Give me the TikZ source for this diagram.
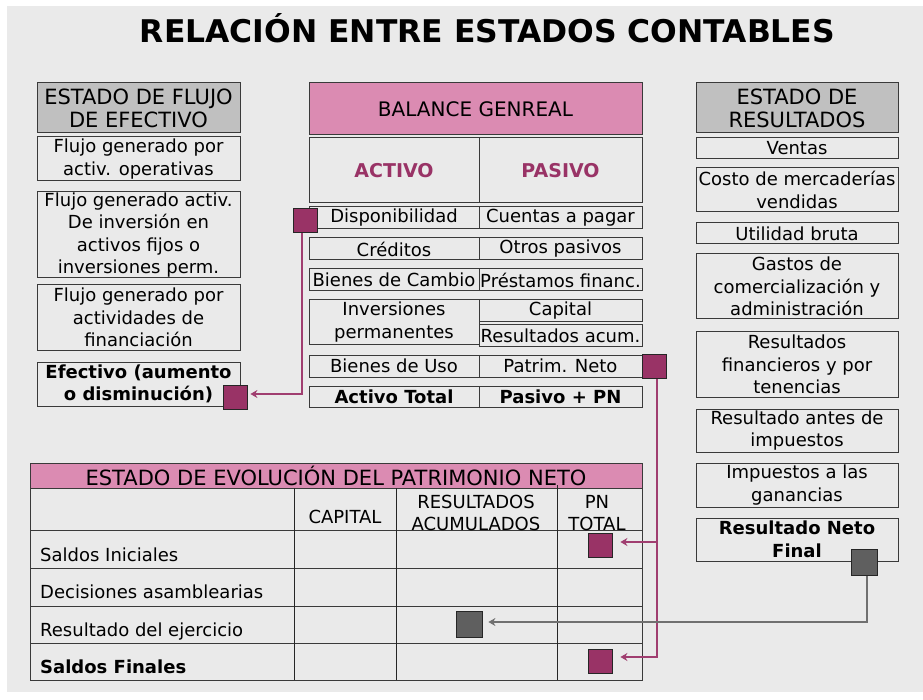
\documentclass[tikz,border=0pt]{standalone}
\usepackage{fontspec}
\setmainfont{DejaVu Sans}
\usetikzlibrary{arrows.meta}
\definecolor{bgc}{HTML}{EAEAEA}
\definecolor{grayhdr}{HTML}{C0C0C0}
\definecolor{pinkc}{HTML}{DB8BB2}
\definecolor{maroon}{HTML}{993366}
\definecolor{pinkline}{HTML}{A03E70}
\definecolor{darksq}{HTML}{5F5F5F}
\definecolor{grayline}{HTML}{707070}
\definecolor{boxline}{HTML}{3A3A3A}
\newcommand\fbody{\fontsize{18}{22.5}\selectfont}
\newcommand\fhead{\fontsize{21}{23}\selectfont}
\begin{document}
\begin{tikzpicture}[x=1pt,y=-1pt,
  box/.style={draw=boxline,line width=1pt,inner sep=0pt,align=center,font=\fbody,text=black},
  hbox/.style={box,font=\fhead},
  bbox/.style={box,font=\fbody\bfseries},
  sqm/.style={draw=black!85,fill=maroon,line width=0.8pt,minimum size=24pt,inner sep=0pt},
  sqg/.style={draw=black!85,fill=darksq,line width=0.8pt,minimum size=26pt,inner sep=0pt},
  pl/.style={draw=pinkline,line width=2.8pt,-{Stealth[length=7pt,width=8pt]}},
  gl/.style={draw=grayline,line width=2.8pt,-{Stealth[length=7pt,width=8pt]}},
  lbl/.style={inner sep=0pt,font=\fbody,text=black,anchor=base west}
]
\useasboundingbox (0,0) rectangle (923,700);
\fill[white] (0,0) rectangle (923,700);
\fill[bgc] (7,6) rectangle (923,692);

% title
\node[inner sep=0pt,anchor=base] (title) at (487.5,43) {\resizebox{695pt}{29pt}{\bfseries RELACIÓN ENTRE ESTADOS CONTABLES}};

% left column
\node[hbox,fill=grayhdr,minimum width=203pt,minimum height=50pt] (fh) at (138.5,108) {ESTADO DE FLUJO\\DE EFECTIVO};
\node[box,minimum width=203pt,minimum height=44pt] (f1) at (138.5,159) {Flujo generado por\\activ. operativas};
\node[box,minimum width=203pt,minimum height=86pt] (f2) at (138.5,235) {Flujo generado activ.\\De inversión en\\activos fijos o\\inversiones perm.};
\node[box,minimum width=203pt,minimum height=65pt] (f3) at (138.5,317.5) {Flujo generado por\\actividades de\\financiación};
\node[bbox,minimum width=203pt,minimum height=44pt] (f4) at (138.5,384) {Efectivo (aumento\\o disminución)};

% balance general
\node[hbox,fill=pinkc,minimum width=333pt,minimum height=52pt,font=\fontsize{20}{23}\selectfont] (bh) at (475.5,109) {BALANCE GENREAL};
\node[box,minimum width=170pt,minimum height=65pt,font=\fontsize{19}{22}\selectfont\bfseries,text=maroon] (act) at (394,170.5) {ACTIVO};
\node[box,minimum width=163pt,minimum height=65pt,font=\fontsize{19}{22}\selectfont\bfseries,text=maroon] (pas) at (560.5,170.5) {PASIVO};
\node[box,minimum width=170pt,minimum height=22pt] (a1) at (394,218) {Disponibilidad};
\node[box,minimum width=163pt,minimum height=22pt] (p1) at (560.5,218) {Cuentas a pagar};
\node[box,minimum width=170pt,minimum height=22pt] (a2) at (394,249) {Créditos};
\node[box,minimum width=163pt,minimum height=22pt] (p2) at (560.5,249) {Otros pasivos};
\node[box,minimum width=170pt,minimum height=22pt] (a3) at (394,280) {Bienes de Cambio};
\node[box,minimum width=163pt,minimum height=22pt] (p3) at (560.5,280) {Préstamos financ.};
\node[box,minimum width=170pt,minimum height=44pt] (a4) at (394,322) {Inversiones\\permanentes};
\node[box,minimum width=163pt,minimum height=22pt] (p4) at (560.5,311) {Capital};
\node[box,minimum width=163pt,minimum height=21pt] (p5) at (560.5,335.5) {Resultados acum.};
\node[box,minimum width=170pt,minimum height=22pt] (a5) at (394,366) {Bienes de Uso};
\node[box,minimum width=163pt,minimum height=22pt] (p6) at (560.5,366) {Patrim. Neto};
\node[bbox,minimum width=170pt,minimum height=21pt] (a6) at (394,396.5) {Activo Total};
\node[bbox,minimum width=163pt,minimum height=21pt] (p7) at (560.5,396.5) {Pasivo + PN};

% right column
\node[hbox,fill=grayhdr,minimum width=202pt,minimum height=50pt] (rh) at (797,108) {ESTADO DE\\RESULTADOS};
\node[box,minimum width=202pt,minimum height=21pt] (r1) at (797,148.5) {Ventas};
\node[box,minimum width=202pt,minimum height=44pt] (r2) at (797,190) {Costo de mercaderías\\vendidas};
\node[box,minimum width=202pt,minimum height=21pt] (r3) at (797,233.5) {Utilidad bruta};
\node[box,minimum width=202pt,minimum height=65pt] (r4) at (797,286.5) {Gastos de\\comercialización y\\administración};
\node[box,minimum width=202pt,minimum height=65pt] (r5) at (797,364.5) {Resultados\\financieros y por\\tenencias};
\node[box,minimum width=202pt,minimum height=43pt] (r6) at (797,430.5) {Resultado antes de\\impuestos};
\node[box,minimum width=202pt,minimum height=44pt] (r7) at (797,485) {Impuestos a las\\ganancias};
\node[bbox,minimum width=202pt,minimum height=43pt] (r8) at (797,539.5) {Resultado Neto\\Final};

% EEPN table
\node[hbox,fill=pinkc,minimum width=612pt,minimum height=25pt] (eh) at (336,475.5) {ESTADO DE EVOLUCIÓN DEL PATRIMONIO NETO};
\draw[boxline,line width=1pt] (30,488) rectangle (642,680);
\foreach \yy in {530,568,606,643} \draw[boxline,line width=1pt] (30,\yy) -- (642,\yy);
\foreach \xx in {294,396} \draw[black!85,line width=1pt] (\xx,488) -- (\xx,680);
\draw[black!85,line width=1pt] (557,485) -- (557,680);
\node[inner sep=0pt,font=\fbody] (ccap) at (345,517) {CAPITAL};
\node[inner sep=0pt,font=\fbody,align=center] (cres) at (476,513) {RESULTADOS\\ACUMULADOS};
\node[inner sep=0pt,font=\fbody,align=center] (cpn) at (597,513) {PN\\TOTAL};
\node[lbl] (l1) at (40,561) {Saldos Iniciales};
\node[lbl] (l2) at (40,598) {Decisiones asamblearias};
\node[lbl] (l3) at (40,636) {Resultado del ejercicio};
\node[lbl,font=\fbody\bfseries] (l4) at (40,673) {Saldos Finales};

% squares
\node[sqm] (sqD) at (305,220) {};
\node[sqm] (sqE) at (235,397) {};
\node[sqm] (sqP) at (654,366.5) {};
\node[sqm] (pn1) at (600,545) {};
\node[sqm] (pn2) at (600,661) {};
\node[sqg] (sqR) at (864,562.5) {};
\node[sqg] (sqX) at (469,624) {};

% connectors
\draw[pl] ([xshift=-3pt]sqD.south) |- ([xshift=3pt,yshift=3pt]sqE.east);
\draw[pl] ([xshift=3pt]sqP.south) |- ([xshift=8pt,yshift=3pt]pn1.east);
\draw[pl] ([xshift=3pt]sqP.south) |- ([xshift=8pt,yshift=4pt]pn2.east);
\draw[gl] ([xshift=3pt]sqR.south) |- ([xshift=6pt,yshift=2pt]sqX.east);

% redraw squares on top
\node[sqm] at (sqD) {};
\node[sqm] at (sqP) {};
\node[sqg] at (sqR) {};
\end{tikzpicture}
\end{document}
